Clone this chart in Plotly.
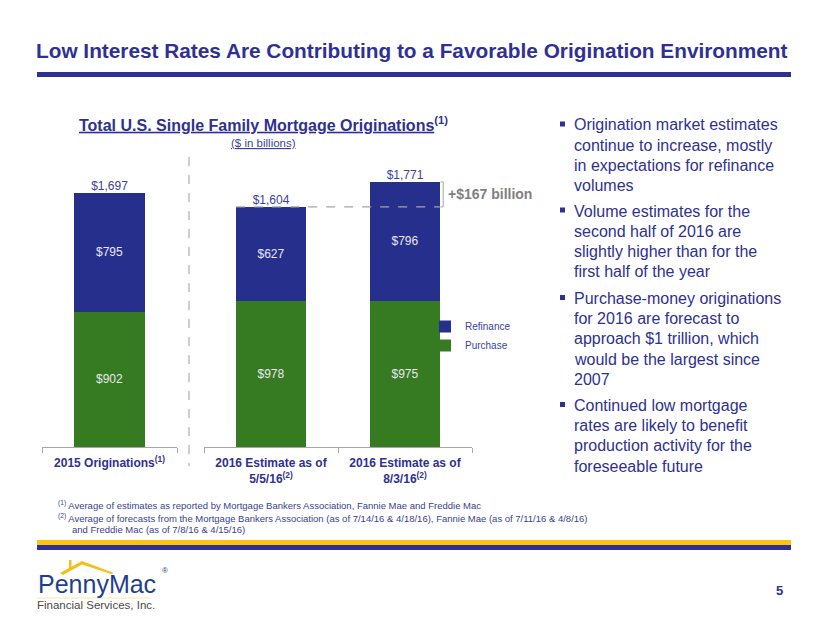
import plotly.graph_objects as go

# ---- data ----
cat_2015 = ["2015"]
cat_2016 = ["2016a", "2016b"]
tick_2015 = ["<b>2015 Originations<sup>(1)</sup></b>"]
tick_2016 = ["<b>2016 Estimate as of<br>5/5/16<sup>(2)</sup></b>",
             "<b>2016 Estimate as of<br>8/3/16<sup>(2)</sup></b>"]
purchase_2015 = [902]
refinance_2015 = [795]
purchase_2016 = [978, 975]
refinance_2016 = [627, 796]
total_2015 = [1697]
total_2016 = [1604, 1771]

bullets = [
    ["Origination market estimates", "continue to increase, mostly",
     "in expectations for refinance", "volumes"],
    ["Volume estimates for the", "second half of 2016 are",
     "slightly higher than for the", "first half of the year"],
    ["Purchase-money originations", "for 2016 are forecast to",
     "approach $1 trillion, which", "would be the largest since", "2007"],
    ["Continued low mortgage", "rates are likely to benefit",
     "production activity for the", "foreseeable future"],
]

NAVY = "#262F8C"
GREEN = "#367A22"
TXT = "#2E3192"
FONT = "Liberation Sans, Arial, sans-serif"
OFF = 8                      # page body margin
W, H = 830 - OFF, 623 - OFF


def px(x):
    return (x - OFF) / W


def py(y):
    return 1 - (y - OFF) / H


fig = go.Figure()

fig.add_trace(go.Bar(x=cat_2015, y=purchase_2015, name="Purchase", marker_color=GREEN,
                     legendgroup="p", xaxis="x", yaxis="y"))
fig.add_trace(go.Bar(x=cat_2015, y=refinance_2015, name="Refinance", marker_color=NAVY,
                     legendgroup="r", xaxis="x", yaxis="y"))
fig.add_trace(go.Bar(x=cat_2016, y=purchase_2016, name="Purchase", marker_color=GREEN,
                     legendgroup="p", showlegend=False, xaxis="x2", yaxis="y"))
fig.add_trace(go.Bar(x=cat_2016, y=refinance_2016, name="Refinance", marker_color=NAVY,
                     legendgroup="r", showlegend=False, xaxis="x2", yaxis="y"))

for tr in fig.data:
    tr.update(texttemplate="$%{y:,.0f}", textposition="inside", insidetextanchor="middle",
              textfont=dict(color="#E8E8F2", size=12, family=FONT),
              marker_line_width=0, constraintext="none", hoverinfo="skip")

tot_font = dict(color="#3A43A0", size=12, family=FONT)
fig.add_trace(go.Scatter(x=cat_2015, y=total_2015, mode="text",
                         text=[f"${v:,}" for v in total_2015], textposition="top center",
                         textfont=tot_font, showlegend=False, cliponaxis=False,
                         hoverinfo="skip", xaxis="x", yaxis="y"))
fig.add_trace(go.Scatter(x=cat_2016, y=total_2016, mode="text",
                         text=[f"${v:,}" for v in total_2016], textposition="top center",
                         textfont=tot_font, showlegend=False, cliponaxis=False,
                         hoverinfo="skip", xaxis="x2", yaxis="y"))

axis_common = dict(type="category", showline=True, linecolor="#A6A6A6", linewidth=1,
                   ticks="outside", tickson="boundaries", ticklen=5, tickcolor="#A6A6A6",
                   showgrid=False, zeroline=False, fixedrange=True, tickangle=0,
                   ticklabelstandoff=5,
                   tickfont=dict(size=12, color=TXT, family=FONT))

ybase, ytop_val = 447, 1900
scale = 254 / 1697
fig.update_layout(
    width=W, height=H, margin=dict(l=0, r=0, t=0, b=0, autoexpand=False),
    paper_bgcolor="white", plot_bgcolor="white",
    barmode="stack", bargap=0.48,
    font=dict(family=FONT, color=TXT),
    xaxis=dict(domain=[px(42), px(177)], anchor="y", range=[-0.5, 0.5],
               tickvals=cat_2015, ticktext=tick_2015, **axis_common),
    xaxis2=dict(domain=[px(204), px(472)], anchor="y", range=[-0.5, 1.5],
                tickvals=cat_2016, ticktext=tick_2016, **axis_common),
    yaxis=dict(range=[0, ytop_val], domain=[py(ybase), py(ybase - ytop_val * scale)],
               visible=False, fixedrange=True),
    legend=dict(x=px(425), y=py(312), xanchor="left", yanchor="top", traceorder="reversed",
                font=dict(size=10, color="#3A43A0", family=FONT), itemwidth=30,
                tracegroupgap=2, bgcolor="rgba(0,0,0,0)"),
    showlegend=True,
)

shapes = []
shapes.append(dict(type="rect", xref="paper", yref="paper", x0=px(37), x1=px(791),
                   y0=py(77), y1=py(72), fillcolor="#2E3192", line_width=0))
shapes.append(dict(type="rect", xref="paper", yref="paper", x0=px(37), x1=px(791),
                   y0=py(545), y1=py(540), fillcolor="#FFC20E", line_width=0))
shapes.append(dict(type="rect", xref="paper", yref="paper", x0=px(37), x1=px(791),
                   y0=py(550), y1=py(545), fillcolor="#2E3192", line_width=0))
shapes.append(dict(type="line", xref="paper", yref="paper", x0=px(189), x1=px(189),
                   y0=py(157), y1=py(466), line=dict(color="#BFBFBF", width=1.5, dash="dash")))
bw = 1 - 0.48
shapes.append(dict(type="line", xref="x2", yref="y", x0=0 - bw / 2, x1=1 + bw / 2,
                   y0=total_2016[0], y1=total_2016[0],
                   line=dict(color="#A6A6A6", width=1.2, dash="dash")))
bx = 1 + bw / 2 + 0.025
shapes.append(dict(type="path", xref="x2", yref="y",
                   path=f"M {1 + bw / 2 + 0.005},{total_2016[1]} L {bx},{total_2016[1]} "
                        f"L {bx},{total_2016[0]} L {1 + bw / 2 + 0.005},{total_2016[0]}",
                   line=dict(color="#A6A6A6", width=1)))
# logo roof + chimney + underline
shapes.append(dict(type="path", xref="paper", yref="paper",
                   path=f"M {px(60)},{py(573)} L {px(82)},{py(561)} L {px(114)},{py(573)} "
                        f"L {px(111)},{py(574)} L {px(82)},{py(564.5)} L {px(63)},{py(575)} Z",
                   fillcolor="#F2C11C", line_width=0))
shapes.append(dict(type="rect", xref="paper", yref="paper", x0=px(69), x1=px(71.5),
                   y0=py(568), y1=py(560), fillcolor="#F2C11C", line_width=0))
shapes.append(dict(type="line", xref="paper", yref="paper", x0=px(37), x1=px(150),
                   y0=py(598), y1=py(598), line=dict(color="#F5E7A8", width=1)))

bullet_y = [125, 211, 298.5, 405.5]
line_h = 20.2
for by in bullet_y:
    shapes.append(dict(type="rect", xref="paper", yref="paper", x0=px(560), x1=px(565),
                       y0=py(by + 1.5), y1=py(by - 3.5), fillcolor="#2E3192", line_width=0))
fig.update_layout(shapes=shapes)

ann = []
ann.append(dict(text="<b>Low Interest Rates Are Contributing to a Favorable Origination Environment</b>",
                xref="paper", yref="paper", x=px(34), y=py(50), xanchor="left", yanchor="middle",
                showarrow=False, font=dict(size=20.8, color="#2E3192", family=FONT)))
ann.append(dict(text="<b><u>Total U.S. Single Family Mortgage Originations</u><sup>(1)</sup></b>",
                xref="paper", yref="paper", x=px(263), y=py(124), xanchor="center", yanchor="middle",
                showarrow=False, font=dict(size=16, color="#2E3192", family=FONT)))
ann.append(dict(text="<u>($ in billions)</u>", xref="paper", yref="paper", x=px(263), y=py(143),
                xanchor="center", yanchor="middle", showarrow=False,
                font=dict(size=11.5, color="#3A43A0", family=FONT)))
ann.append(dict(text=f"<b>+${total_2016[1] - total_2016[0]} billion</b>", xref="x2", yref="y",
                x=bx + 0.02, y=(total_2016[0] + total_2016[1]) / 2, xanchor="left",
                yanchor="middle", showarrow=False, font=dict(size=14, color="#808080", family=FONT)))

for by, lines in zip(bullet_y, bullets):
    for i, line in enumerate(lines):
        ann.append(dict(text=line, xref="paper", yref="paper", x=px(572), y=py(by + i * line_h),
                        xanchor="left", yanchor="middle", showarrow=False,
                        font=dict(size=16, color="#2E3192", family=FONT)))

foot = [
    (505, 56, "<sup>(1)</sup> Average of estimates as reported by Mortgage Bankers Association, Fannie Mae and Freddie Mac"),
    (517.5, 56, "<sup>(2)</sup> Average of forecasts from the Mortgage Bankers Association (as of 7/14/16 & 4/18/16), Fannie Mae (as of 7/11/16 & 4/8/16)"),
    (529.5, 70, "and Freddie Mac (as of 7/8/16 & 4/15/16)"),
]
for fy, fx, ft in foot:
    ann.append(dict(text=ft, xref="paper", yref="paper", x=px(fx), y=py(fy), xanchor="left",
                    yanchor="middle", showarrow=False,
                    font=dict(size=9.5, color="#3A3F8F", family=FONT)))

ann.append(dict(text="PennyMac", xref="paper", yref="paper", x=px(36), y=py(584),
                xanchor="left", yanchor="middle", showarrow=False,
                font=dict(size=25, color="#1F3E8F", family=FONT)))
ann.append(dict(text="®", xref="paper", yref="paper", x=px(160), y=py(570),
                xanchor="left", yanchor="middle", showarrow=False,
                font=dict(size=8, color="#1F3E8F", family=FONT)))
ann.append(dict(text="Financial Services, Inc.", xref="paper", yref="paper", x=px(35), y=py(605),
                xanchor="left", yanchor="middle", showarrow=False,
                font=dict(size=11.5, color="#4A4A4A", family=FONT)))
ann.append(dict(text="<b>5</b>", xref="paper", yref="paper", x=px(779), y=py(590),
                xanchor="center", yanchor="middle", showarrow=False,
                font=dict(size=13, color="#2E3192", family=FONT)))
fig.update_layout(annotations=ann)

fig.write_html("out.html")
